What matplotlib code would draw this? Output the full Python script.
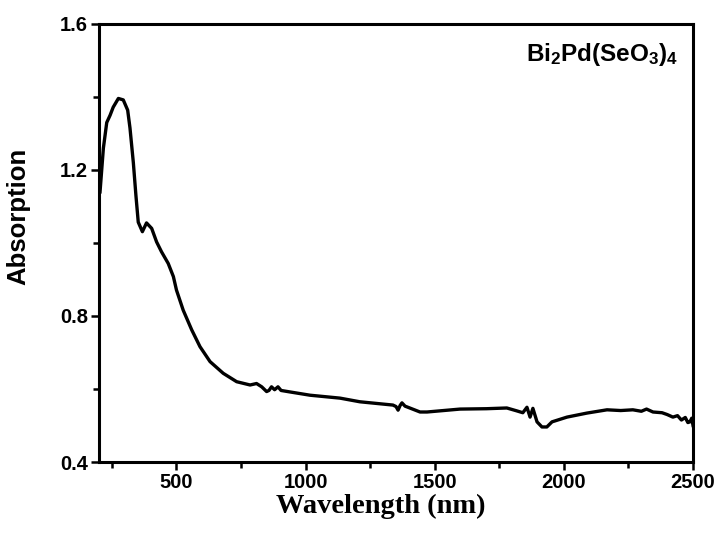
import matplotlib
matplotlib.use("Agg")
import matplotlib.pyplot as plt
from matplotlib.ticker import MultipleLocator

# absorption spectrum
wavelength = [204, 217, 230, 243, 255, 275, 294, 311, 320, 333, 343, 352,
              368, 384, 404, 423, 442, 468, 488, 500, 526, 559, 591, 630,
              681, 733, 785, 810, 830, 849, 858, 868, 880, 893, 905, 939,
              1017, 1133, 1210, 1338, 1350, 1358, 1366, 1373, 1385, 1396,
              1443, 1470, 1598, 1700, 1779, 1818, 1841, 1857, 1869, 1880,
              1896, 1915, 1934, 1954, 2012, 2089, 2167, 2220, 2267, 2300,
              2320, 2345, 2380, 2400, 2422, 2440, 2455, 2470, 2480, 2488,
              2495, 2500]
absorption = [1.14, 1.26, 1.33, 1.35, 1.372, 1.396, 1.392, 1.364, 1.315,
              1.22, 1.13, 1.057, 1.031, 1.055, 1.04, 1.003, 0.976, 0.944,
              0.908, 0.871, 0.816, 0.762, 0.716, 0.675, 0.643, 0.62, 0.611,
              0.615, 0.606, 0.593, 0.596, 0.606, 0.598, 0.606, 0.596,
              0.592, 0.583, 0.575, 0.565, 0.556, 0.552, 0.542, 0.555,
              0.562, 0.553, 0.55, 0.537, 0.537, 0.545, 0.546, 0.548, 0.54,
              0.535, 0.55, 0.523, 0.547, 0.51, 0.496, 0.496, 0.51, 0.523,
              0.534, 0.543, 0.541, 0.543, 0.539, 0.545, 0.537, 0.535,
              0.53, 0.523, 0.527, 0.515, 0.522, 0.508, 0.51, 0.52, 0.5]

compound = r"Bi$_2$Pd(SeO$_3$)$_4$"

plt.rcParams["font.family"] = "Liberation Sans"
plt.rcParams["mathtext.fontset"] = "custom"
plt.rcParams["mathtext.rm"] = "Liberation Sans:bold"
plt.rcParams["mathtext.default"] = "rm"

fig = plt.figure(figsize=(7.21, 5.33), dpi=100)
ax = fig.add_axes([0.1373, 0.1332, 0.8239, 0.8218])

ax.plot(wavelength, absorption, color="black", linewidth=2.4,
        solid_joinstyle="round")

ax.set_xlim(200, 2500)
ax.set_ylim(0.4, 1.6)
ax.xaxis.set_major_locator(MultipleLocator(500))
ax.xaxis.set_minor_locator(MultipleLocator(250))
ax.yaxis.set_major_locator(MultipleLocator(0.4))
ax.yaxis.set_minor_locator(MultipleLocator(0.2))
ax.set_xticks([500, 1000, 1500, 2000, 2500])

for s in ax.spines.values():
    s.set_linewidth(2.2)

ax.tick_params(axis="both", which="major", direction="out", length=6,
               width=1.8, labelsize=14.5, pad=2)
ax.tick_params(axis="both", which="minor", direction="out", length=4,
               width=1.8)
for lab in ax.get_xticklabels() + ax.get_yticklabels():
    lab.set_fontweight("bold")

ax.set_xlabel("Wavelength (nm)", family="Liberation Serif", fontweight="bold",
              fontsize=20.5)
ax.xaxis.set_label_coords(0.475, -0.072)
ax.set_ylabel("Absorption", fontweight="bold", fontsize=18.5)
ax.yaxis.set_label_coords(-0.116, 0.56)

ax.text(0.975, 0.93, compound, transform=ax.transAxes, ha="right",
        va="center", fontsize=17.5, fontweight="bold")

fig.savefig("out.png", dpi=100)
